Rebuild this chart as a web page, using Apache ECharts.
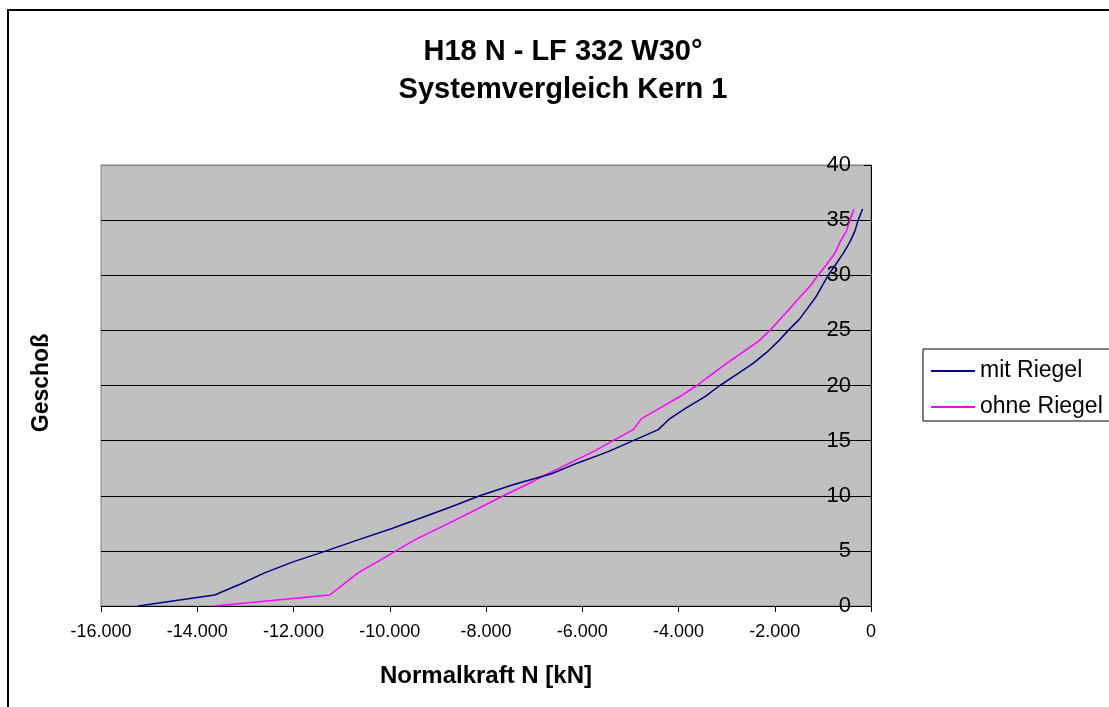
<!DOCTYPE html>
<html>
<head>
<meta charset="utf-8">
<script src="https://cdn.jsdelivr.net/npm/echarts@6/dist/echarts.min.js"></script>
<style>
html,body{margin:0;padding:0;background:#fff;}
#c{width:1109px;height:707px;}
</style>
</head>
<body>
<div id="c"></div>
<script>
var titleLines = ['H18 N - LF 332 W30°', 'Systemvergleich Kern 1'];
var xAxisTitle = 'Normalkraft N [kN]';
var yAxisTitle = 'Geschoß';
var seriesNames = ['mit Riegel', 'ohne Riegel'];
var floors = [0,1,2,3,4,5,6,7,8,9,10,11,12,13,14,15,16,17,18,19,20,21,22,23,24,25,26,27,28,29,30,31,32,33,34,35,36];
var mitRiegel = [-15230,-13640,-13100,-12600,-12010,-11320,-10660,-9970,-9340,-8720,-8130,-7440,-6640,-6080,-5460,-4940,-4420,-4180,-3830,-3450,-3140,-2790,-2450,-2170,-1930,-1720,-1490,-1320,-1150,-1020,-890,-730,-575,-440,-335,-265,-175];
var ohneRiegel = [-13640,-11250,-10950,-10660,-10260,-9870,-9480,-9010,-8545,-8090,-7640,-7160,-6710,-6240,-5770,-5360,-4940,-4770,-4370,-3970,-3620,-3310,-3000,-2670,-2340,-2100,-1890,-1680,-1480,-1270,-1100,-920,-750,-645,-510,-440,-355];
var xTicks = {min:-16000, max:0, interval:2000};
var yTicks = {min:0, max:40, interval:5};

var FONT = '"Liberation Sans", Arial, sans-serif';
function fmt(v){
  if (v === 0) return '0';
  var s = String(Math.abs(v)).replace(/\B(?=(\d{3})+(?!\d))/g, '.');
  return (v < 0 ? '-' : '') + s;
}
function pairs(xs){ return xs.map(function(x,i){ return [x, floors[i]]; }); }

var chart = echarts.init(document.getElementById('c'), null, {renderer:'canvas'});
chart.setOption({
  animation:false,
  backgroundColor:'#ffffff',
  title:{
    text: titleLines.join('\n'),
    left:563, top:33, padding:0, textAlign:'center',
    textStyle:{fontFamily:FONT, fontSize:29, fontWeight:'bold', color:'#000', lineHeight:38}
  },
  legend:{
    orient:'vertical', left:923, top:349,
    padding:[9,40,1,8], itemGap:10,
    itemWidth:44, itemHeight:2, icon:'rect',
    backgroundColor:'#fff', borderColor:'#000', borderWidth:1,
    textStyle:{fontFamily:FONT, fontSize:23, color:'#000', lineHeight:26},
    data: seriesNames
  },
  grid:{
    left:101, right:238, top:165, bottom:101,
    show:true, backgroundColor:'#c0c0c0', borderColor:'#808080', borderWidth:1,
    containLabel:false, outerBoundsMode:'none'
  },
  xAxis:{
    type:'value', min:xTicks.min, max:xTicks.max, interval:xTicks.interval,
    name:xAxisTitle, nameLocation:'middle', nameGap:58,
    nameTextStyle:{fontFamily:FONT, fontSize:24, fontWeight:'bold', color:'#000'},
    axisLine:{show:true, onZero:false, lineStyle:{color:'#000', width:1}},
    axisTick:{show:true, length:6, lineStyle:{color:'#000'}},
    axisLabel:{fontFamily:FONT, fontSize:18, color:'#000', margin:17, formatter:fmt},
    splitLine:{show:false}
  },
  yAxis:{
    type:'value', position:'right', min:yTicks.min, max:yTicks.max, interval:yTicks.interval,
    axisLine:{show:true, onZero:false, lineStyle:{color:'#000', width:1}},
    axisTick:{show:true, inside:true, length:7, lineStyle:{color:'#000'}},
    axisLabel:{inside:true, fontFamily:FONT, fontSize:22, color:'#000', margin:20},
    splitLine:{show:true, lineStyle:{color:['#000','#000','#000','#000','#000','#000','#000','#000','#808080'], width:1}}
  },
  graphic:[
    {type:'rect', silent:true, z:100, shape:{x:8, y:10, width:1120, height:720},
     style:{fill:null, stroke:'#000', lineWidth:2}},
    {type:'text', silent:true, x:42, y:383, rotation:Math.PI/2,
     style:{text:yAxisTitle, fontFamily:FONT, fontSize:23, fontWeight:'bold', fill:'#000',
            textAlign:'center', textVerticalAlign:'middle'}}
  ],
  series:[
    {name:seriesNames[0], type:'line', data:pairs(mitRiegel), symbol:'none', smooth:false,
     lineStyle:{color:'#000080', width:1.5}, itemStyle:{color:'#000080'}, z:3},
    {name:seriesNames[1], type:'line', data:pairs(ohneRiegel), symbol:'none', smooth:false,
     lineStyle:{color:'#ff00ff', width:1.5}, itemStyle:{color:'#ff00ff'}, z:2}
  ]
});
</script>
</body>
</html>
